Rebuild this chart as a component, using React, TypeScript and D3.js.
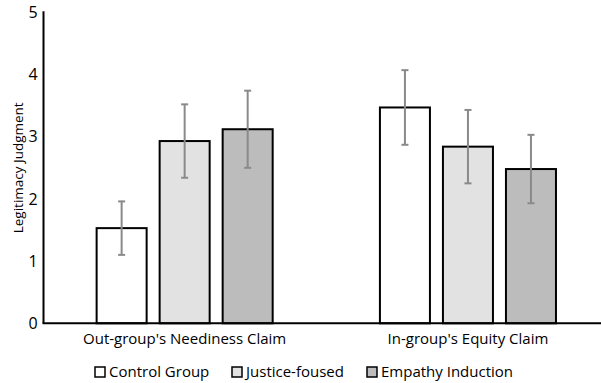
import React from "react";
import * as d3 from "d3";

const categories = ["Out-group's Neediness Claim", "In-group's Equity Claim"];
const seriesNames = ["Control Group", "Justice-foused", "Empathy Induction"];
const controlValues = [1.53, 3.47];
const justiceValues = [2.93, 2.84];
const empathyValues = [3.12, 2.48];
const controlErrors = [0.43, 0.6];
const justiceErrors = [0.59, 0.59];
const empathyErrors = [0.62, 0.55];
const yTicks = [0, 1, 2, 3, 4, 5];
const seriesColors = ["#ffffff", "#e1e2e1", "#bcbcbc"];

const W = 601;
const H = 383;
const FONT = "'Open Sans', 'Noto Sans', sans-serif";

export default function App() {
  const values = [controlValues, justiceValues, empathyValues];
  const errors = [controlErrors, justiceErrors, empathyErrors];
  const y = d3.scaleLinear().domain([0, 5]).range([323.3, 12.3]);
  const x0 = d3.scaleBand<string>().domain(categories).range([43, 609.6]).paddingInner(0).paddingOuter(0);
  const x1 = d3
    .scaleBand<string>()
    .domain(seriesNames)
    .range([0, x0.bandwidth()])
    .paddingInner(13 / 63)
    .paddingOuter(0.851);
  const bw = x1.bandwidth();
  const legendX = [95, 232, 367];

  return (
    <svg width={W} height={H} style={{ position: "absolute", left: 0, top: 0, background: "#fff" }} fontFamily={FONT}>
      {/* bars */}
      {categories.map((c, ci) =>
        seriesNames.map((s, si) => {
          const v = values[si][ci];
          const bx = (x0(c) as number) + (x1(s) as number);
          return (
            <rect
              key={c + s}
              x={bx}
              y={y(v)}
              width={bw}
              height={y(0) - y(v)}
              fill={seriesColors[si]}
              stroke="#000"
              strokeWidth={2}
            />
          );
        })
      )}
      {/* error bars */}
      {categories.map((c, ci) =>
        seriesNames.map((s, si) => {
          const v = values[si][ci];
          const e = errors[si][ci];
          const cx = (x0(c) as number) + (x1(s) as number) + bw / 2;
          return (
            <g key={"e" + c + s} stroke="#8a8a8a" strokeWidth={2}>
              <line x1={cx} x2={cx} y1={y(v + e)} y2={y(v - e)} />
              <line x1={cx - 3.5} x2={cx + 3.5} y1={y(v + e)} y2={y(v + e)} />
              <line x1={cx - 3.5} x2={cx + 3.5} y1={y(v - e)} y2={y(v - e)} />
            </g>
          );
        })
      )}
      {/* axes */}
      <line x1={43.5} x2={43.5} y1={y(5) - 1} y2={y(0)} stroke="#000" strokeWidth={2} />
      <line x1={42.5} x2={W} y1={y(0)} y2={y(0)} stroke="#000" strokeWidth={2} />
      {yTicks.map((t) => (
        <text key={t} x={33} y={y(t)} dy="0.35em" textAnchor="middle" fontSize={16} fill="#000">
          {t}
        </text>
      ))}
      <text
        transform={`translate(18,${y(2.5)}) rotate(-90)`}
        textAnchor="middle"
        dy="0.35em"
        fontSize={13.5}
        fill="#000"
      >
        Legitimacy Judgment
      </text>
      {categories.map((c) => (
        <text
          key={c}
          x={(x0(c) as number) + x0.bandwidth() / 2}
          y={339}
          dy="0.35em"
          textAnchor="middle"
          fontSize={15}
          fill="#000"
        >
          {c}
        </text>
      ))}
      {/* legend */}
      {seriesNames.map((s, si) => (
        <g key={s}>
          <rect x={legendX[si]} y={367} width={10} height={10} fill={seriesColors[si]} stroke="#000" strokeWidth={1.5} />
          <text x={legendX[si] + 14} y={372} dy="0.35em" fontSize={15} fill="#000">
            {s}
          </text>
        </g>
      ))}
    </svg>
  );
}
